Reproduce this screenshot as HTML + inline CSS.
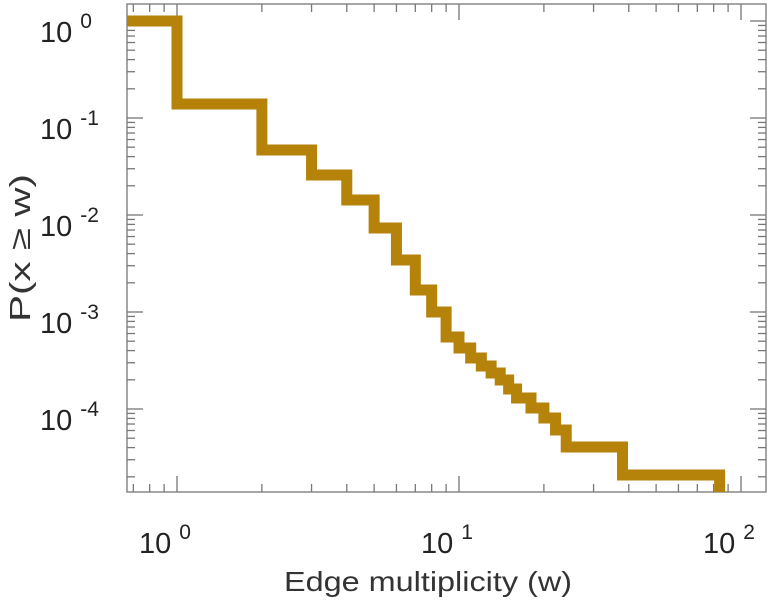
<!DOCTYPE html>
<html><head><meta charset="utf-8"><style>
html,body{margin:0;padding:0;background:#fff;}
svg{display:block;font-family:"Liberation Sans","DejaVu Sans",sans-serif;}
</style></head><body>
<svg id="chart" width="771" height="600">
<defs><clipPath id="clip"><rect x="127" y="4" width="639" height="488"/></clipPath></defs>
<rect x="127" y="4" width="639" height="488" fill="none" stroke="#888" stroke-width="1.5"/>
<g id="ticks"></g>
<g id="labels"></g>
<path id="series" clip-path="url(#clip)" fill="none" stroke="#b5820a" stroke-width="11" stroke-linejoin="miter"/>
<text x="428" y="591" text-anchor="middle" font-size="28" textLength="288" lengthAdjust="spacingAndGlyphs" fill="#333">Edge multiplicity (w)</text>
<text transform="translate(30,248) rotate(-90)" text-anchor="middle" font-size="29" textLength="148" lengthAdjust="spacingAndGlyphs" fill="#333">P(x ≥ w)</text>
</svg>
<script>
const stepW = [0.6,1,2,3,4,5,6,7,8,9,10,11,12,13,14,15,16,18,20,22,24,38,84];
const stepLogP = [0,-0.856,-1.33,-1.588,-1.845,-2.134,-2.464,-2.773,-3.0,-3.258,-3.371,-3.474,-3.557,-3.629,-3.701,-3.794,-3.887,-3.99,-4.093,-4.216,-4.392,-4.68];
const xTickExps = [0,1,2];
const yTickExps = [0,-1,-2,-3,-4];

const X0=127,X1=766,Y0=4,Y1=492;
function xs(w){return 177+Math.log10(w)*282;}
function ys(lp){return 21-lp*97;}
const NS='http://www.w3.org/2000/svg';
let d='M'+xs(stepW[0])+','+ys(stepLogP[0]);
for(let i=0;i<stepLogP.length;i++){
  d+=' L'+xs(stepW[i+1])+','+ys(stepLogP[i]);
  if(i+1<stepLogP.length) d+=' L'+xs(stepW[i+1])+','+ys(stepLogP[i+1]);
}
d+=' L'+xs(stepW[stepW.length-1])+','+(Y1+10);
document.getElementById('series').setAttribute('d',d);

const tg=document.getElementById('ticks');
function line(x1,y1,x2,y2,name){
  const l=document.createElementNS(NS,'line');
  l.setAttribute('x1',x1);l.setAttribute('y1',y1);l.setAttribute('x2',x2);l.setAttribute('y2',y2);
  l.setAttribute('stroke','#777');l.setAttribute('stroke-width','1.3');
  
  
  tg.appendChild(l);
}
for(let e=-1;e<=2;e++){for(let m=1;m<10;m++){
  const x=xs(m*Math.pow(10,e)); if(x<X0||x>X1) continue;
  const L=m===1?16:8;
  line(x,Y1,x,Y1-L,'x-tick');line(x,Y0,x,Y0+L,'x-tick');
}}
for(let e=-5;e<=0;e++){for(let m=1;m<10;m++){
  const y=ys(Math.log10(m)+e); if(y<Y0||y>Y1) continue;
  const L=m===1?16:8;
  line(X0,y,X0+L,y,'y-tick');line(X1,y,X1-L,y,'y-tick');
}}
const lg=document.getElementById('labels');
function lab(x,y,exp,name){
  const t=document.createElementNS(NS,'text');
  t.setAttribute('x',x);t.setAttribute('y',y);t.setAttribute('font-size','29');t.setAttribute('fill','#222');
  
  
  t.innerHTML='10<tspan dy="-14" dx="8" font-size="21">'+exp+'</tspan>';
  lg.appendChild(t);
}
xTickExps.forEach(e=>lab(xs(Math.pow(10,e))-38,553,e,'x-tick-label'));
yTickExps.forEach(e=>lab(40,ys(e)+21,e,'y-tick-label'));
</script>
</body></html>
